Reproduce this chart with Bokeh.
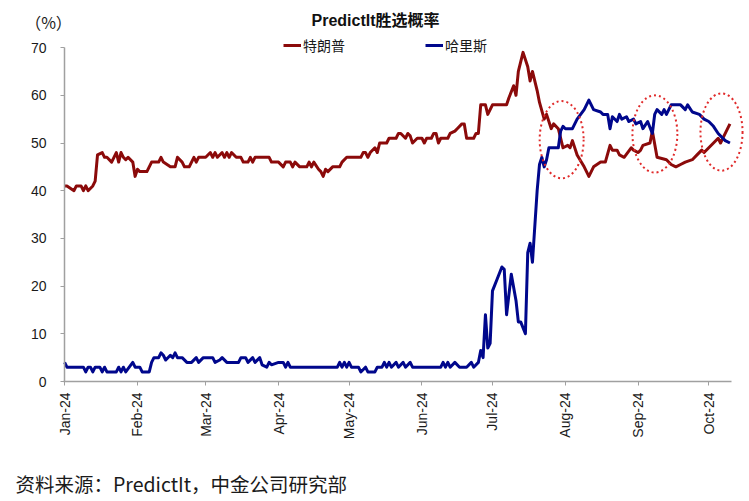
import pandas as pd
from math import pi
from bokeh.plotting import figure
from bokeh.models import (Range1d, DatetimeTickFormatter, MonthsTicker, FixedTicker,
                          Legend, LegendItem, Label, ColumnDataSource)
from bokeh.embed import file_html
from bokeh.resources import INLINE

# ---------------- data ----------------
trump_dates = [
    "2024-01-01", "2024-01-02", "2024-01-05", "2024-01-06", "2024-01-08", "2024-01-09", "2024-01-10",
    "2024-01-11", "2024-01-13", "2024-01-14", "2024-01-15", "2024-01-17", "2024-01-18", "2024-01-19",
    "2024-01-21", "2024-01-22", "2024-01-23", "2024-01-24", "2024-01-25", "2024-01-26", "2024-01-27",
    "2024-01-28", "2024-01-30", "2024-01-31", "2024-02-01", "2024-02-02", "2024-02-05", "2024-02-07",
    "2024-02-10", "2024-02-11", "2024-02-12", "2024-02-15", "2024-02-17", "2024-02-18", "2024-02-20",
    "2024-02-21", "2024-02-23", "2024-02-25", "2024-02-26", "2024-02-27", "2024-03-01", "2024-03-03",
    "2024-03-04", "2024-03-05", "2024-03-06", "2024-03-08", "2024-03-09", "2024-03-10", "2024-03-11",
    "2024-03-12", "2024-03-14", "2024-03-16", "2024-03-17", "2024-03-19", "2024-03-20", "2024-03-21",
    "2024-03-22", "2024-03-28", "2024-03-29", "2024-04-01", "2024-04-03", "2024-04-04", "2024-04-06",
    "2024-04-07", "2024-04-08", "2024-04-10", "2024-04-13", "2024-04-14", "2024-04-15", "2024-04-16",
    "2024-04-18", "2024-04-19", "2024-04-20", "2024-04-21", "2024-04-22", "2024-04-24", "2024-04-27",
    "2024-04-28", "2024-04-30", "2024-05-06", "2024-05-07", "2024-05-08", "2024-05-09", "2024-05-10",
    "2024-05-12", "2024-05-13", "2024-05-14", "2024-05-17", "2024-05-18", "2024-05-21", "2024-05-22",
    "2024-05-23", "2024-05-25", "2024-05-26", "2024-05-27", "2024-05-28", "2024-05-30", "2024-06-01",
    "2024-06-02", "2024-06-03", "2024-06-05", "2024-06-06", "2024-06-07", "2024-06-08", "2024-06-09",
    "2024-06-12", "2024-06-13", "2024-06-15", "2024-06-16", "2024-06-18", "2024-06-19", "2024-06-20",
    "2024-06-23", "2024-06-24", "2024-06-25", "2024-06-26", "2024-06-28", "2024-06-29", "2024-07-01",
    "2024-07-07", "2024-07-08", "2024-07-10", "2024-07-11", "2024-07-12", "2024-07-14", "2024-07-16",
    "2024-07-17", "2024-07-18", "2024-07-20", "2024-07-21", "2024-07-23", "2024-07-24", "2024-07-26",
    "2024-07-27", "2024-07-29", "2024-07-31", "2024-08-02", "2024-08-03", "2024-08-04", "2024-08-06",
    "2024-08-09", "2024-08-11", "2024-08-13", "2024-08-16", "2024-08-18", "2024-08-20", "2024-08-21",
    "2024-08-23", "2024-08-24", "2024-08-26", "2024-08-29", "2024-08-30", "2024-09-01", "2024-09-02",
    "2024-09-03", "2024-09-06", "2024-09-07", "2024-09-09", "2024-09-13", "2024-09-15", "2024-09-17",
    "2024-09-19", "2024-09-21", "2024-09-24", "2024-09-26", "2024-09-28", "2024-09-29", "2024-10-01",
    "2024-10-03", "2024-10-05", "2024-10-06", "2024-10-08", "2024-10-10",
]
trump_values = [
    41, 41, 40, 41, 41, 40, 41,
    40, 41, 42, 47.5, 48, 47, 47,
    46, 47, 48, 46, 48, 47, 46.5,
    47, 46, 43, 44.5, 44, 44, 46,
    46, 47, 46, 45, 45, 47, 46,
    45, 45, 47, 46, 47, 47, 48,
    47, 48, 47, 48, 47, 48, 47,
    48, 47, 47, 46, 46, 47, 46,
    47, 47, 46, 46, 45, 46, 46,
    45, 46, 45, 45, 46, 45, 46,
    44.5, 44, 43, 44.5, 44, 45, 45,
    46, 47, 47, 48, 48, 47, 48,
    49, 48, 50, 50, 51, 51, 52,
    52, 51, 52, 51.5, 50, 51, 51,
    50, 51, 51, 52, 52, 50, 51,
    51, 52, 52.5, 53, 54, 54, 51,
    51, 52, 52, 58, 58, 56, 58,
    58, 59.5, 62, 60, 65, 69, 66,
    63, 65, 61, 58.5, 55, 56, 53,
    54, 53, 49, 49.5, 49, 50.5, 47.5,
    45, 43, 45, 46, 46, 49.5, 48.5,
    48.5, 47.5, 47, 49, 48.5, 48, 48.5,
    49.5, 50, 52.5, 47, 46.5, 45.5, 45,
    45.5, 46, 46.5, 47.5, 48.5, 48, 49,
    50, 51, 50, 52, 54,
]

harris_dates = [
    "2024-01-01", "2024-01-02", "2024-01-09", "2024-01-10", "2024-01-11", "2024-01-12", "2024-01-13",
    "2024-01-14", "2024-01-16", "2024-01-17", "2024-01-18", "2024-01-19", "2024-01-23", "2024-01-24",
    "2024-01-25", "2024-01-26", "2024-01-27", "2024-01-30", "2024-01-31", "2024-02-02", "2024-02-03",
    "2024-02-06", "2024-02-07", "2024-02-08", "2024-02-10", "2024-02-11", "2024-02-12", "2024-02-13",
    "2024-02-15", "2024-02-16", "2024-02-17", "2024-02-18", "2024-02-20", "2024-02-22", "2024-02-24",
    "2024-02-26", "2024-02-27", "2024-02-29", "2024-03-04", "2024-03-05", "2024-03-07", "2024-03-08",
    "2024-03-10", "2024-03-15", "2024-03-16", "2024-03-18", "2024-03-19", "2024-03-21", "2024-03-22",
    "2024-03-24", "2024-03-25", "2024-03-27", "2024-03-28", "2024-03-29", "2024-04-01", "2024-04-03",
    "2024-04-04", "2024-04-05", "2024-04-06", "2024-04-26", "2024-04-27", "2024-04-28", "2024-04-29",
    "2024-04-30", "2024-05-01", "2024-05-02", "2024-05-05", "2024-05-06", "2024-05-08", "2024-05-09",
    "2024-05-12", "2024-05-13", "2024-05-15", "2024-05-16", "2024-05-17", "2024-05-18", "2024-05-19",
    "2024-05-21", "2024-05-22", "2024-05-24", "2024-05-25", "2024-05-27", "2024-05-28", "2024-06-09",
    "2024-06-10", "2024-06-11", "2024-06-12", "2024-06-13", "2024-06-15", "2024-06-17", "2024-06-20",
    "2024-06-22", "2024-06-23", "2024-06-25", "2024-06-26", "2024-06-27", "2024-06-28", "2024-06-29",
    "2024-06-30", "2024-07-01", "2024-07-03", "2024-07-05", "2024-07-06", "2024-07-07", "2024-07-09",
    "2024-07-11", "2024-07-12", "2024-07-13", "2024-07-15", "2024-07-16", "2024-07-17", "2024-07-18",
    "2024-07-20", "2024-07-21", "2024-07-22", "2024-07-23", "2024-07-24", "2024-07-25", "2024-07-26",
    "2024-07-29", "2024-07-30", "2024-07-31", "2024-08-01", "2024-08-04", "2024-08-06", "2024-08-09",
    "2024-08-11", "2024-08-13", "2024-08-16", "2024-08-17", "2024-08-19", "2024-08-20", "2024-08-21",
    "2024-08-23", "2024-08-24", "2024-08-25", "2024-08-27", "2024-08-28", "2024-08-30", "2024-08-31",
    "2024-09-02", "2024-09-03", "2024-09-05", "2024-09-07", "2024-09-08", "2024-09-09", "2024-09-11",
    "2024-09-12", "2024-09-13", "2024-09-15", "2024-09-19", "2024-09-21", "2024-09-22", "2024-09-24",
    "2024-09-27", "2024-09-29", "2024-10-01", "2024-10-03", "2024-10-05", "2024-10-08", "2024-10-10",
]
harris_values = [
    4, 3, 3, 2, 3, 3, 2,
    3, 3, 2, 3, 2, 2, 3,
    2, 3, 2, 4, 3, 3, 2,
    2, 4, 5, 5, 6, 5.5, 4.5,
    5.5, 5, 6, 5, 5, 4, 4,
    5, 4, 5, 5, 4, 4.5, 5,
    4, 4, 5, 5, 4, 5, 4,
    5, 3.5, 3, 4, 3.5, 4, 4,
    3, 4, 3, 3, 4, 3, 4,
    3, 4, 3, 3, 2, 3, 2,
    2, 3, 3, 4, 3, 4, 3,
    4, 3, 4, 3, 4, 3, 3,
    4, 3, 4, 3, 4, 3, 3,
    4, 3, 4, 6.5, 5, 14, 7,
    8, 19, 21.5, 24, 23.5, 14, 22.5,
    17, 12.5, 12.5, 10, 27, 29, 25,
    40, 45.5, 47, 45, 46.5, 49, 49,
    49, 52.5, 53.5, 53, 53, 55, 57,
    59, 57, 56.5, 56, 56, 53, 55.5,
    54.5, 56, 55, 55.5, 54.5, 55, 54,
    54.5, 53, 54.5, 52, 56, 57, 56,
    57, 56, 58, 58, 57, 58, 56.5,
    56, 55, 54.5, 53.5, 52, 50.5, 50,
]

series_names = ["特朗普", "哈里斯"]
y_ticks = [0, 10, 20, 30, 40, 50, 60, 70]

# highlighted periods (dotted circles): centre date, centre value, span in days
highlight_dates = ["2024-07-30 10:00", "2024-09-08 02:00", "2024-10-06 10:00"]
highlight_values = [50.7, 51.9, 52.3]
highlight_days = [18.7, 19.1, 17.9]
highlight_height = 16.2

title_text = "PredictIt胜选概率"
unit_text = "（%）"
source_text = "资料来源：PredictIt，中金公司研究部"

# ---------------- figure ----------------
RED = "#8b0a0a"
BLUE = "#00078c"
ANN = "#e02a2a"
AX = "#a0a0a0"
LATIN = "Liberation Sans"
CJK = "Noto Sans CJK SC"

W, H = 749, 501
PX_DAY = 2.351      # horizontal pixels per day
X0 = 64.1           # pixel of the y axis
PX_UNIT = 4.77      # vertical pixels per percentage point
Y0 = 381.0          # pixel of the x axis (0 %)

t0 = pd.Timestamp("2024-01-01")
def at_day(d):
    return t0 + pd.Timedelta(days=d)

def ms(ts):
    return ts.value / 1e6

x_range = Range1d(at_day(-X0 / PX_DAY), at_day((W - X0) / PX_DAY))
y_range = Range1d((Y0 - H) / PX_UNIT, Y0 / PX_UNIT)
axis_start = at_day(-0.3)
axis_end = at_day(283.5)

p = figure(width=W, height=H, x_axis_type="datetime",
           x_range=x_range, y_range=y_range,
           output_backend="svg", toolbar_location=None,
           min_border=0, min_border_left=0, min_border_right=0,
           min_border_top=0, min_border_bottom=0)
p.outline_line_color = None
p.xgrid.visible = False
p.ygrid.visible = False
p.background_fill_color = "white"
p.border_fill_color = "white"

src_t = ColumnDataSource(dict(x=pd.to_datetime(trump_dates), y=trump_values))
src_h = ColumnDataSource(dict(x=pd.to_datetime(harris_dates), y=harris_values))
r_t = p.line("x", "y", source=src_t, line_color=RED, line_width=3, line_join="round")
r_h = p.line("x", "y", source=src_h, line_color=BLUE, line_width=3, line_join="round")

hl = ColumnDataSource(dict(
    x=pd.to_datetime(highlight_dates),
    y=highlight_values,
    w=[d * 86400000.0 for d in highlight_days],
    h=[highlight_height] * len(highlight_dates),
))
p.ellipse(x="x", y="y", width="w", height="h", source=hl, fill_alpha=0,
          line_color=ANN, line_width=2, line_dash="2 3")

# axes (pinned to the data origin)
p.xaxis.fixed_location = 0
p.xaxis.bounds = (ms(axis_start), ms(axis_end))
p.yaxis.fixed_location = ms(t0)
p.yaxis.bounds = (y_ticks[0], y_ticks[-1])
p.xaxis.ticker = MonthsTicker(months=list(range(1, 13)))
p.xaxis.formatter = DatetimeTickFormatter(months="%b-%y", days="%b-%y", context=None)
p.xaxis.major_label_orientation = pi / 2
p.yaxis.ticker = FixedTicker(ticks=y_ticks)
for ax in (p.xaxis[0], p.yaxis[0]):
    ax.axis_line_color = AX
    ax.axis_line_width = 1.5
    ax.major_tick_line_color = AX
    ax.major_tick_in = 0
    ax.major_tick_out = 4
    ax.minor_tick_line_color = None
    ax.major_label_text_font = LATIN
    ax.major_label_text_font_size = "14px"
    ax.major_label_text_color = "#1a1a1a"
p.xaxis.major_label_standoff = 7
p.yaxis.major_label_standoff = 14

# legend
legend = Legend(items=[LegendItem(label=series_names[0], renderers=[r_t]),
                       LegendItem(label=series_names[1], renderers=[r_h])],
                orientation="horizontal", location=(283, 446), spacing=80,
                glyph_width=18, glyph_height=14, label_standoff=2, padding=0, margin=0,
                border_line_alpha=0, background_fill_alpha=0,
                label_text_font=CJK, label_text_font_size="14px", label_text_color="#1a1a1a")
p.add_layout(legend)

# texts placed through the chart's own scales
p.add_layout(Label(x=at_day((375 - X0) / PX_DAY), y=(Y0 - 20) / PX_UNIT, text=title_text,
                   text_align="center", text_baseline="middle", text_font=f"{LATIN}, {CJK}",
                   text_font_style="bold", text_font_size="16px", text_color="#111111"))
p.add_layout(Label(x=at_day((48 - X0) / PX_DAY), y=(Y0 - 21) / PX_UNIT, text=unit_text,
                   text_align="center", text_baseline="middle", text_font=CJK,
                   text_font_size="16px", text_color="#1a1a1a"))
p.add_layout(Label(x=at_day((15 - X0) / PX_DAY), y=(Y0 - 483) / PX_UNIT, text=source_text,
                   text_align="left", text_baseline="middle", text_font=CJK,
                   text_font_size="19.5px", text_color="#1a1a1a"))

open("out.html", "w").write(file_html(p, INLINE))
